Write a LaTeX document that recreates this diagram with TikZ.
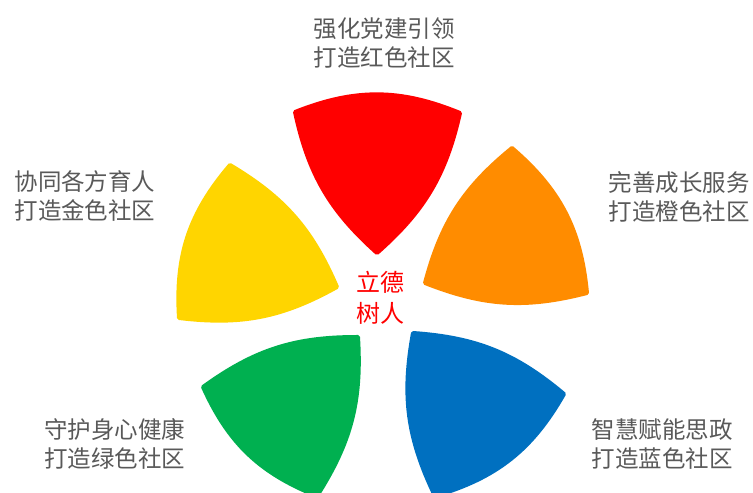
\documentclass[tikz,border=0pt]{standalone}
\usepackage{fontspec}
\setmainfont{Noto Sans CJK SC}
\usepackage{tikz}
\definecolor{petalred}{HTML}{FF0000}
\definecolor{petalorange}{HTML}{FF8C00}
\definecolor{petalyellow}{HTML}{FFD500}
\definecolor{petalgreen}{HTML}{00B050}
\definecolor{petalblue}{HTML}{0070C0}
\definecolor{labelgray}{HTML}{595959}

\begin{document}
\begin{tikzpicture}[x=1pt, y=1pt,
  petal/.style={line width=4pt, line join=round},
  side/.style={bend right=18},
  rim/.style={bend right=22},
  caption/.style={align=center, text=labelgray, inner sep=0pt,
    font=\fontsize{23.5}{29}\selectfont}]
\useasboundingbox (0,0) rectangle (753,493);
\clip (0,0) rectangle (753,493);

% petals: tip, then the two outer corners
\filldraw [petal, petalred] (377,240) to[side] (460,380) to[rim] (295,381) to[side] (377,240) -- cycle;
\filldraw [petal, petalorange] (425,210) to[side] (587,200) to[rim] (512,345) to[side] (425,210) -- cycle;
\filldraw [petal, petalblue] (413,160) to[side] (435,-3) to[rim] (564,99) to[side] (413,160) -- cycle;
\filldraw [petal, petalgreen] (358,156) to[side] (203,106) to[rim] (317,-3) to[side] (358,156) -- cycle;
\filldraw [petal, petalyellow] (337,206) to[side] (230,328) to[rim] (179,175) to[side] (337,206) -- cycle;

% centre
\node [caption, text=petalred, font=\fontsize{24}{31}\selectfont] (core) at (380,195) {立德\\树人};

% captions
\node [caption] (redtext) at (384,450) {强化党建引领\\打造红色社区};
\node [caption] (orangetext) at (679,296) {完善成长服务\\打造橙色社区};
\node [caption] (bluetext) at (662,49) {智慧赋能思政\\打造蓝色社区};
\node [caption] (greentext) at (115,49) {守护身心健康\\打造绿色社区};
\node [caption] (yellowtext) at (85,297) {协同各方育人\\打造金色社区};

\end{tikzpicture}
\end{document}
